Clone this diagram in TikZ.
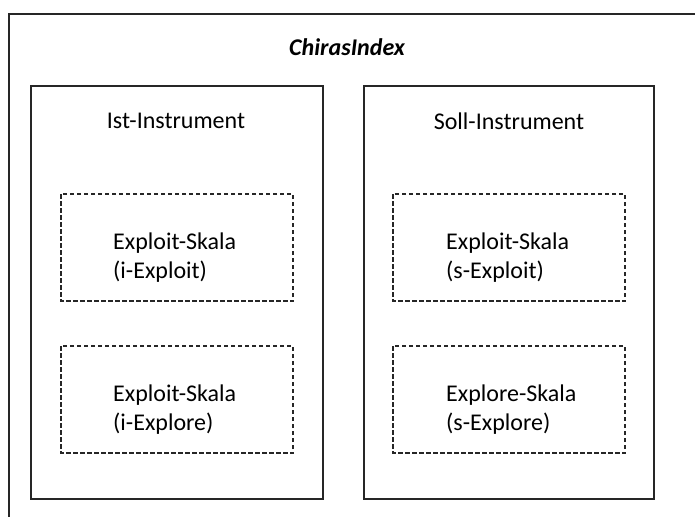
\documentclass[tikz,border=0pt]{standalone}
\usepackage{fontspec}
\setmainfont{Carlito}
\begin{document}
\begin{tikzpicture}[x=1pt,y=-1pt,
  frame/.style={draw=black!85, line width=1.6pt},
  instrument/.style={draw=black!85, line width=1.6pt},
  scalebox/.style={draw=black!85, line width=1.3pt, dash pattern=on 4.5pt off 2.5pt},
  label/.style={font=\fontsize{24}{29}\selectfont, inner sep=0pt},
  scaletext/.style={font=\fontsize{24}{29}\selectfont, align=left, inner sep=0pt, anchor=west}]
\useasboundingbox (0,0) rectangle (695,516);
% outer frame (only top and left edges inside the view)
\draw[frame] (9,520) -- (9,14) -- (700,14);
\node[label, font=\fontsize{24}{29}\selectfont\bfseries\itshape] (title) at (347,47) {ChirasIndex};
% instruments
\draw[instrument] (31,86) rectangle (323,499);
\draw[instrument] (364,86) rectangle (654,499);
\node[label] (ist) at (176,121) {Ist-Instrument};
\node[label] (soll) at (509,121) {Soll-Instrument};
% scales
\draw[scalebox] (61,194) rectangle (293,301);
\draw[scalebox] (61,346) rectangle (293,453);
\draw[scalebox] (393,194) rectangle (625,301);
\draw[scalebox] (393,346) rectangle (625,453);
\node[scaletext] (iexploit) at (113,258) {Exploit-Skala\\(i-Exploit)};
\node[scaletext] (iexplore) at (113,410) {Exploit-Skala\\(i-Explore)};
\node[scaletext] (sexploit) at (446,258) {Exploit-Skala\\(s-Exploit)};
\node[scaletext] (sexplore) at (446,410) {Explore-Skala\\(s-Explore)};
\end{tikzpicture}
\end{document}
